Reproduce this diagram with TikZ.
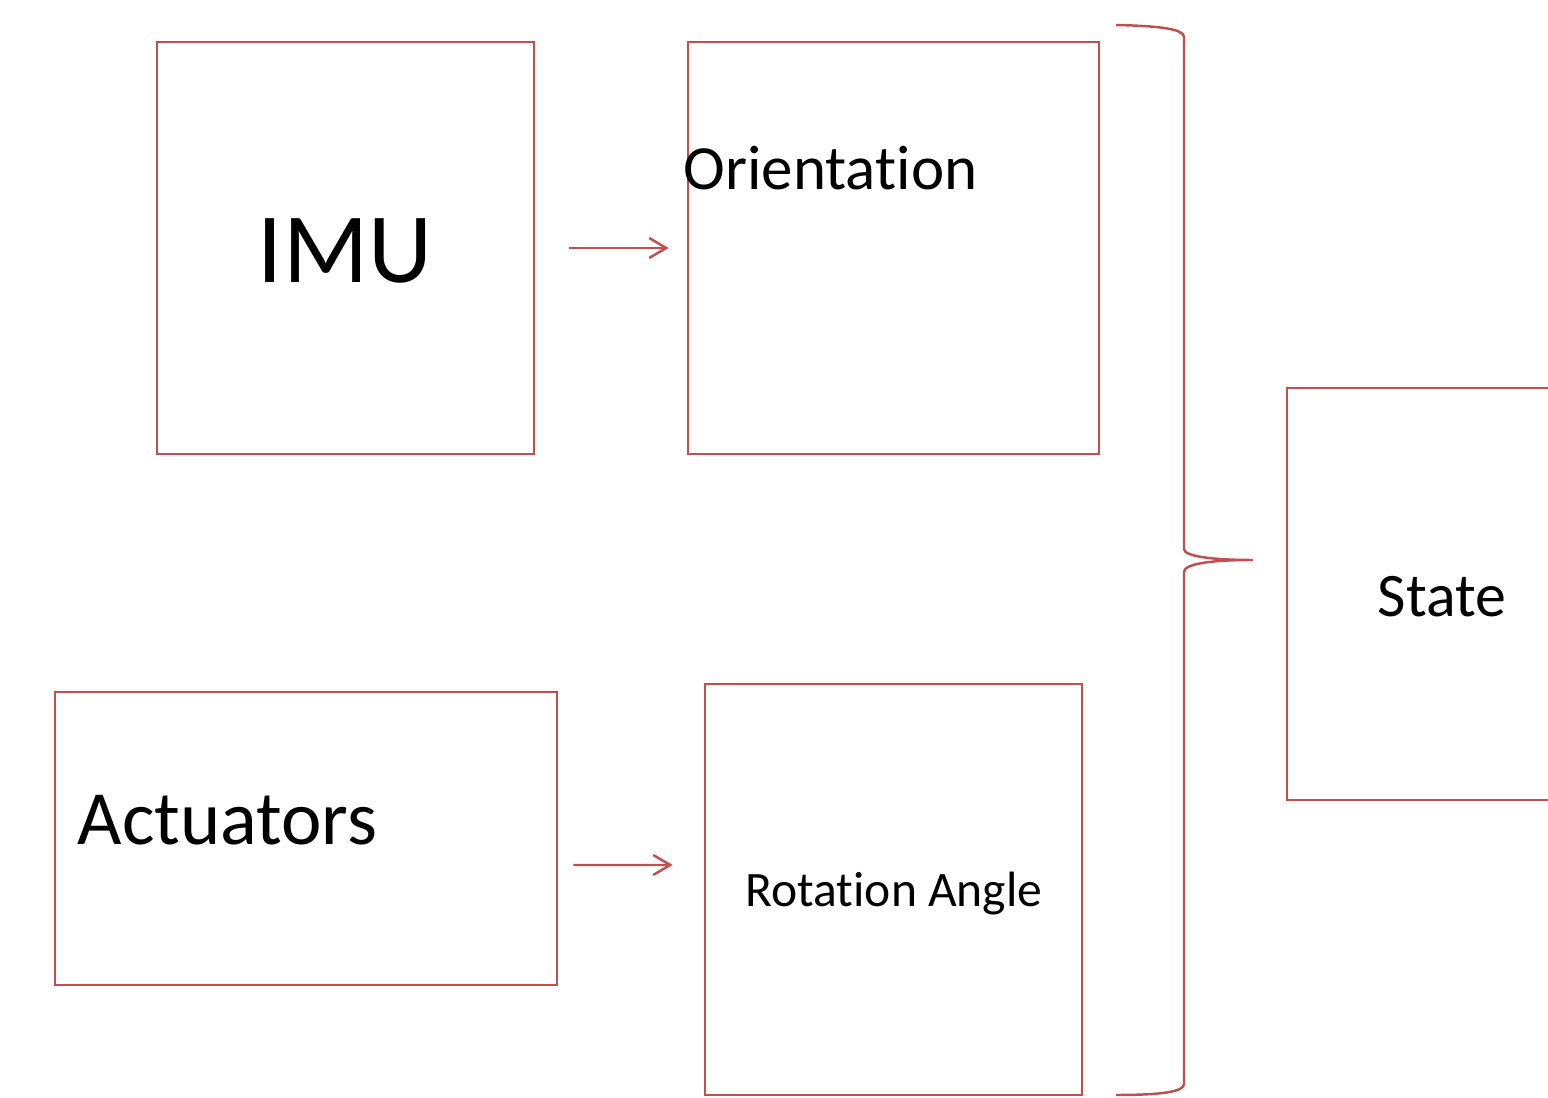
\documentclass[tikz,border=0pt]{standalone}
\usepackage{fontspec}
\setmainfont[Ligatures={NoCommon,NoContextual}]{Carlito}
\usetikzlibrary{arrows.meta}
\definecolor{boxred}{RGB}{192,80,77}

\begin{document}
\begin{tikzpicture}[x=0.01cm,y=-0.01cm,
    box/.style={draw=boxred,line width=0.7pt,rectangle,inner sep=0pt},
    arr/.style={draw=boxred,line width=0.7pt,-{Straight Barb[length=0.17cm,width=0.2cm]}},
    brc/.style={draw=boxred,line width=0.7pt}]
        \clip (0,0) rectangle (1548,1098);
        \draw (345.5,248)  node[box,minimum width=3.77cm,minimum height=4.12cm] (imu) {};
        \draw (893.5,248)  node[box,minimum width=4.11cm,minimum height=4.12cm] (orient) {};
        \draw (306,838.5)  node[box,minimum width=5.02cm,minimum height=2.93cm] (act) {};
        \draw (893.5,889.5) node[box,minimum width=3.77cm,minimum height=4.11cm] (rot) {};
        \draw (1475.5,594) node[box,minimum width=3.77cm,minimum height=4.12cm] (state) {};
        \node[anchor=base,inner sep=0pt,font=\fontsize{28.3}{30}\selectfont] (imutxt) at (345,283) {IMU};
        \node[anchor=base west,inner sep=0pt,font=\fontsize{17.9}{20}\selectfont] (orienttxt) at (683,190) {Orientation};
        \node[anchor=base west,inner sep=0pt,font=\fontsize{21.8}{24}\selectfont] (acttxt) at (77,845) {Actuators};
        \node[anchor=base,inner sep=0pt,font=\fontsize{14.1}{16}\selectfont] (rottxt) at (894,907) {Rotation Angle};
        \node[anchor=base,inner sep=0pt,font=\fontsize{17.6}{20}\selectfont] (statetxt) at (1442,617) {State};
        \draw[arr] ([xshift=0.34cm]imu.east) -- ([xshift=-0.18cm]orient.west);
        \draw[arr] ([xshift=0.15cm,yshift=-0.265cm]act.east) -- ([xshift=-0.31cm,yshift=0.245cm]rot.west);
        \draw[brc] (1116,25) .. controls (1160,26) and (1184,29) .. (1184,37) -- (1184,549)
              .. controls (1184,556) and (1210,560) .. (1253,560)
              .. controls (1210,560) and (1184,564) .. (1184,572) -- (1184,1084)
              .. controls (1184,1092) and (1160,1095) .. (1116,1095);
    \end{tikzpicture}
\end{document}
